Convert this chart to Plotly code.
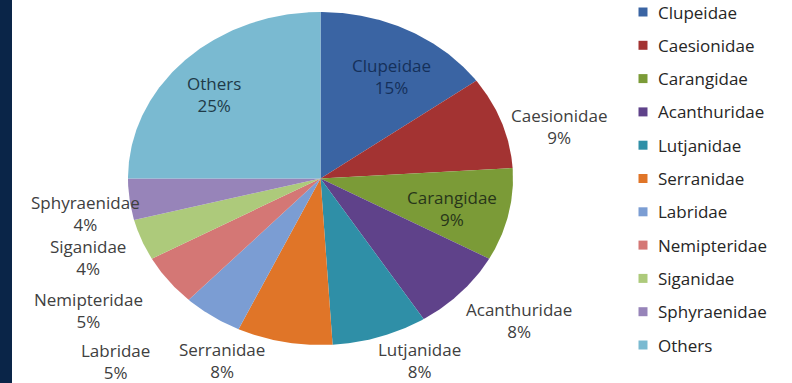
import numpy as np
import plotly.graph_objects as go

# Catch composition by fish family (percent of total)
families = ["Clupeidae", "Caesionidae", "Carangidae", "Acanthuridae", "Lutjanidae",
            "Serranidae", "Labridae", "Nemipteridae", "Siganidae", "Sphyraenidae", "Others"]
shares = [15, 9, 9, 8, 8, 8, 5, 5, 4, 4, 25]

slice_colors = ["#3A64A3", "#A33332", "#7B9B37", "#5F428A", "#2F8FA7", "#E07528",
                "#7B9DD3", "#D47775", "#ADCA7B", "#9784B9", "#7ABAD1"]

# Label placement: inside labels sit at a fraction of the radius on the slice's mid-angle,
# outside labels are offset in pixels from the rim point at the mid-angle.
inside_labels = {
    "Clupeidae": dict(r=0.70, dx=10, dy=-2, color="#15305A"),
    "Carangidae": dict(r=0.70, dx=0, dy=-5, color="#28361A"),
    "Others": dict(r=0.70, dx=-11, dy=2, color="#1F3A48"),
}
outside_offsets = {
    "Caesionidae": (57, 4), "Acanthuridae": (58, 28), "Lutjanidae": (40, 24),
    "Serranidae": (-62, 18), "Labridae": (-97, 45), "Nemipteridae": (-80, 30),
    "Siganidae": (-54, 18), "Sphyraenidae": (-44, 14),
}

FONT = "Open Sans"
FSIZE = 17
W, H = 792, 383
CX, CY, RX, RY = 320.5, 178.5, 192.5, 166.5   # pie centre / radii in pixels

fig = go.Figure()

# Pie slices, clockwise from 12 o'clock, drawn on a unit circle that the axes stretch
total = float(sum(shares))
cum = np.concatenate([[0.0], np.cumsum(shares)]) / total * 2 * np.pi
annotations = []
for i, (name, val) in enumerate(zip(families, shares)):
    a0, a1 = cum[i], cum[i + 1]
    th = np.linspace(a0, a1, max(int(np.degrees(a1 - a0)) * 2, 4))
    xs = np.concatenate([[0.0], np.sin(th), [0.0]])
    ys = np.concatenate([[0.0], np.cos(th), [0.0]])
    fig.add_trace(go.Scatter(x=xs, y=ys, mode="lines", fill="toself",
                             fillcolor=slice_colors[i], line=dict(width=0),
                             hoverinfo="text", text=f"{name}: {val}%",
                             showlegend=False, xaxis="x", yaxis="y"))
    mid = (a0 + a1) / 2
    label = f"{name}<br>{val}%"
    if name in inside_labels:
        s = inside_labels[name]
        annotations.append(dict(x=s["r"] * np.sin(mid), y=s["r"] * np.cos(mid),
                                xref="x", yref="y", text=label, showarrow=False,
                                xshift=s["dx"], yshift=s["dy"],
                                font=dict(family=FONT, size=FSIZE, color=s["color"])))
    else:
        dx, dy = outside_offsets[name]
        annotations.append(dict(x=np.sin(mid), y=np.cos(mid), xref="x", yref="y",
                                text=label, showarrow=False, xshift=dx, yshift=-dy,
                                font=dict(family=FONT, size=FSIZE, color="#404040")))

# Legend: square swatches with names, one row per family
legend_rows = list(range(len(families)))
fig.add_trace(go.Scatter(x=[643] * len(families), y=legend_rows, mode="markers",
                         marker=dict(symbol="square", size=9, color=slice_colors),
                         hoverinfo="skip", showlegend=False, xaxis="x2", yaxis="y2"))
for row, name in zip(legend_rows, families):
    annotations.append(dict(x=656, y=row, xref="x2", yref="y2", text=name,
                            showarrow=False, xanchor="left",
                            font=dict(family=FONT, size=FSIZE, color="#262626")))

# Dark navy strip down the left edge
shapes = [dict(type="rect", xref="paper", yref="paper", x0=0, x1=12 / W, y0=0, y1=1,
               fillcolor="#0A2548", line=dict(width=0), layer="below")]

fig.update_layout(
    width=W, height=H,
    margin=dict(l=0, r=0, t=0, b=0),
    paper_bgcolor="white", plot_bgcolor="white",
    xaxis=dict(range=[-CX / RX, (W - CX) / RX], visible=False, domain=[0, 1], fixedrange=True),
    yaxis=dict(range=[-(H - CY) / RY, CY / RY], visible=False, domain=[0, 1], fixedrange=True),
    xaxis2=dict(range=[0, W], visible=False, domain=[0, 1], anchor="y2", overlaying="x"),
    yaxis2=dict(range=[(H - 12) / 33.3, -12 / 33.3], visible=False, domain=[0, 1],
                anchor="x2", overlaying="y"),
    annotations=annotations,
    shapes=shapes,
    showlegend=False,
)

fig.write_html("out.html")
